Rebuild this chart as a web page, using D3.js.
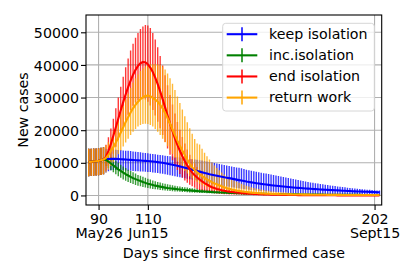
<!DOCTYPE html>
<html><head><meta charset="utf-8">
<script src="https://cdn.jsdelivr.net/npm/d3@7"></script>
<style>body{margin:0;background:#fff}svg{display:block}text{font-family:"DejaVu Sans",sans-serif}</style>
</head><body><svg id="c" width="415" height="277"></svg>
<script>
// ---- data ----
const firstDay = 86, lastDay = 204;
const days = d3.range(firstDay, lastDay + 1);
const seriesNames = ["keep isolation", "inc.isolation", "end isolation", "return work"];
const seriesColors = ["#0000ff", "#008000", "#ff0000", "#ffa500"];
const xTickValues = [90, 110, 202];
const xTickLabels = [["90", "May26"], ["110", "Jun15"], ["202", "Sept15"]];
const yTickValues = [0, 10000, 20000, 30000, 40000, 50000];

const keepMean = [10200,10300,10400,10500,10600,10800,11000,
11100,11150,11200,11200,11200,11150,11100,11050,
11000,10950,10900,10850,10800,10750,10700,10650,10600,10550,
10500,10400,10300,10200,10100,10000,9850,9700,9550,9400,
9250,9100,8900,8700,8500,8300,8100,7900,7700,7500,
7300,7100,6900,6700,6500,6350,6200,6050,5900,5750,
5600,5450,5300,5150,5000,4850,4700,4550,4400,4250,
4120,4000,3880,3760,3650,3540,3430,3330,3230,3140,
3050,2960,2880,2800,2720,2650,2580,2510,2440,2380,
2320,2260,2200,2140,2080,2030,1980,1930,1880,1830,
1780,1740,1700,1660,1620,1580,1540,1500,1460,1420,
1380,1340,1300,1260,1230,1200,1170,1140,1110,1080,
1050,1020,990,960];
const keepLow = [5900,6000,6000,6100,6200,6300,6500,
7000,7400,7700,7800,7800,7800,7750,7700,
7650,7600,7550,7500,7450,7400,7350,7300,7250,7200,
7150,7050,6950,6850,6750,6650,6500,6350,6200,6050,
5900,5750,5600,5450,5300,5150,5000,4850,4700,4550,
4380,4200,4050,3900,3750,3600,3450,3300,3150,3000,
2880,2760,2640,2520,2400,2290,2180,2070,1970,1870,
1770,1680,1590,1500,1420,1340,1270,1200,1140,1080,
1020,970,920,870,830,790,750,710,680,650,
620,590,560,540,510,490,470,450,430,410,
390,375,360,345,330,315,300,290,280,270,
260,250,240,230,220,210,200,195,190,180,
175,170,165,160];
const keepHigh = [14300,14300,14400,14400,14500,14600,14800,
14300,14200,14100,14000,14000,13900,13900,13800,
13700,13700,13600,13500,13400,13300,13200,13100,13000,12900,
12800,12700,12600,12500,12400,12300,12200,12100,12000,11900,
11800,11700,11600,11500,11400,11300,11200,11100,11000,10900,
10800,10700,10550,10400,10250,10100,9950,9800,9650,9500,
9350,9200,9050,8900,8750,8600,8450,8300,8100,7900,
7700,7550,7400,7250,7100,6950,6800,6700,6550,6400,
6250,6100,5950,5800,5650,5500,5350,5200,5050,4900,
4750,4600,4450,4300,4150,4000,3880,3760,3640,3520,
3400,3290,3180,3070,2960,2860,2760,2660,2570,2480,
2390,2300,2220,2140,2060,1990,1920,1850,1780,1720,
1660,1600,1540,1480];

const incMean = [10200,10300,10400,10500,10600,10800,11000,
10900,10400,9800,9200,8600,8000,7500,7000,
6500,6100,5700,5300,5000,4700,4400,4100,3850,3600,
3400,3200,3000,2850,2700,2550,2400,2280,2180,2100,
2000,1910,1830,1750,1680,1610,1540,1470,1410,1350,
1300,1250,1200,1150,1100,1050,1000,960,920,880,
850,820,790,760,740,710,690,660,640,620,
600,580,560,540,520,505,490,475,460,450,
435,420,410,395,385,370,360,350,340,330,
320,310,300,290,285,275,270,260,255,245,
240,230,225,220,215,210,205,200,195,190,
185,180,175,170,165,160,155,150,145,140,
135,130,125,120];
const incLow = [5900,6000,6000,6100,6200,6300,6500,
9000,8400,7700,7100,6500,5900,5400,4900,
4500,4100,3800,3500,3200,3000,2800,2600,2450,2300,
2150,2000,1900,1800,1700,1600,1520,1440,1370,1300,
1240,1180,1120,1070,1020,970,930,890,850,810,
780,750,720,690,660,630,600,580,560,540,
520,500,480,460,445,430,415,400,385,370,
355,340,330,320,310,300,290,280,270,260,
250,240,230,220,210,200,195,190,185,180,
175,170,165,160,155,150,145,140,135,130,
125,120,115,110,105,100,96,92,88,84,
80,77,74,71,68,65,62,59,56,53,
50,48,46,44];
const incHigh = [14300,14300,14400,14400,14500,14600,14800,
12600,12200,11700,11200,10600,10000,9400,8900,
8400,7900,7500,7100,6700,6300,6000,5700,5400,5100,
4850,4600,4350,4150,3950,3750,3550,3400,3250,3100,
2970,2850,2730,2620,2510,2410,2310,2220,2130,2050,
1970,1890,1820,1750,1680,1620,1560,1500,1440,1390,
1340,1290,1240,1200,1160,1120,1080,1040,1000,970,
940,910,880,850,820,795,770,745,720,700,
680,660,640,620,600,585,570,555,540,525,
510,495,480,470,460,450,440,430,420,410,
400,390,380,370,360,350,342,334,326,318,
310,302,294,286,278,270,263,256,249,242,
235,228,221,215];

const endMean = [10200,10300,10400,10500,10600,10800,11000,
11800,13600,15800,18300,20900,23500,26100,28600,
31000,33200,35200,37000,38500,39700,40500,40900,40800,40200,
39200,37800,36100,34100,31900,29500,27000,24500,22000,19700,
17500,15500,13700,12000,10500,9200,8000,7000,6200,5500,
4900,4300,3800,3350,2900,2500,2250,2000,1800,1600,
1450,1300,1180,1070,970,880,800,730,670,610,
560,510,470,430,390,360,330,300,280,260,
240,220,200,185,170,158,146,135,125,116,
108,100,93,86,80,74,69,64,60,56,
52,48,45,42,39,36,34,32,30,28,
26,24,22,21,20,19,18,17,16,15,
14,13,12,11];
const endLow = [5900,6000,6000,6100,6200,6300,6500,
7600,9000,10800,12800,14900,17000,19100,21100,
23000,24700,26200,27500,28500,29200,29600,29700,29400,28700,
27600,26200,24500,22600,20600,18500,16400,14400,12500,10800,
9200,7800,6600,5500,4600,3900,3300,2800,2350,2000,
1700,1450,1250,1070,920,800,700,610,530,460,
400,350,310,270,240,210,185,165,145,130,
115,100,90,80,70,62,55,50,45,40,
36,32,29,26,23,21,19,17,15,14,
13,12,11,10,9,8,7,7,6,6,
5,5,5,4,4,4,3,3,3,3,
2,2,2,2,2,2,1,1,1,1,
1,1,1,1];
const endHigh = [14300,14300,14400,14400,14500,14600,14800,
15500,17800,20500,23500,26700,30000,33300,36400,
39300,42000,44400,46500,48300,49800,51000,51800,52200,52100,
51300,49800,47800,45400,42700,39800,36800,33800,30800,27900,
25100,22500,20100,17900,15900,14100,12500,11100,9800,8700,
7700,6800,6000,5300,4700,4200,3750,3350,3000,2700,
2450,2200,2000,1800,1650,1500,1370,1250,1140,1040,
950,870,800,735,675,620,570,525,485,450,
415,385,355,330,305,285,265,245,230,215,
200,187,175,163,152,142,133,124,116,108,
101,95,89,83,78,73,68,64,60,56,
52,49,46,43,40,38,36,34,32,30,
28,26,24,22];

const retMean = [10200,10300,10400,10500,10600,10800,11000,
11500,12400,13600,14800,16200,17700,19300,20900,
22500,24000,25400,26700,27800,28700,29500,30100,30500,30600,
30400,29900,29400,28700,27800,26700,25300,23700,22000,20200,
18500,16800,15200,13800,12400,11000,9700,8600,7800,7100,
6500,5900,5400,4900,4500,4100,3700,3400,3100,2800,
2500,2250,2050,1850,1680,1520,1380,1250,1130,1030,
940,860,790,730,670,620,580,540,500,470,
440,420,400,380,360,345,330,315,300,290,
280,270,260,250,242,234,226,218,211,204,
198,192,186,180,175,170,165,160,156,152,
148,144,140,137,134,131,128,125,122,120,
118,116,114,112];
const retLow = [5900,6000,6000,6100,6200,6300,6500,
7000,7900,9000,10200,11400,12600,13800,15000,
16200,17400,18500,19500,20400,21100,21600,21900,22000,21900,
21600,21100,20400,19500,18500,17400,16300,15100,13900,12700,
11500,10400,9400,8400,7500,6700,5900,5200,4600,4100,
3600,3200,2800,2500,2200,1950,1700,1500,1330,1180,
1050,930,830,740,660,590,530,470,420,380,
340,310,280,255,232,212,195,180,166,154,
143,133,124,116,109,102,96,90,85,80,
76,72,68,65,62,59,56,54,52,50,
48,46,44,43,42,41,40,39,38,37,
36,35,34,33,32,31,30,29,28,27,
26,25,24,23];
const retHigh = [14300,14300,14400,14400,14500,14600,14800,
15300,16300,17800,19600,21500,23500,25500,27500,
29400,31200,32900,34500,35900,37100,38100,38900,39500,39900,
40100,40200,40200,40100,40000,39500,38600,37400,35900,34200,
32300,30300,28300,26300,24300,22400,20600,18900,17300,15900,
15600,14300,13100,12000,11000,10100,9200,8400,7700,7000,
6400,5900,5400,5000,4600,4200,3900,3600,3300,3000,
2750,2500,2300,2100,1950,1800,1650,1530,1420,1320,
1230,1150,1080,1010,950,900,850,800,760,720,
685,650,620,590,565,540,515,495,475,455,
440,425,410,395,382,370,358,347,336,326,
316,307,298,290,282,275,268,261,255,249,
243,238,233,228];

// ---- chart ----
const series = [
  {name: seriesNames[0], color: seriesColors[0], mean: keepMean, low: keepLow, high: keepHigh},
  {name: seriesNames[1], color: seriesColors[1], mean: incMean, low: incLow, high: incHigh},
  {name: seriesNames[2], color: seriesColors[2], mean: endMean, low: endLow, high: endHigh},
  {name: seriesNames[3], color: seriesColors[3], mean: retMean, low: retLow, high: retHigh}
];

const FS = 14.2;
const L = 86, R = 381.7, T = 15, B = 205;
const svg = d3.select("#c");
const x = d3.scaleLinear().domain([84.9, 204.9]).range([L, R]);
const y = d3.scaleLinear().domain([-2930, 55300]).range([B, T]);

svg.append("clipPath").attr("id", "clip").append("rect")
  .attr("x", L).attr("y", T).attr("width", R - L).attr("height", B - T);

// grid
const grid = svg.append("g");
grid.selectAll("line.gy").data(yTickValues).join("line")
  .attr("x1", L).attr("x2", R).attr("y1", d => y(d)).attr("y2", d => y(d))
  .attr("stroke", "#b0b0b0").attr("stroke-width", 1.1);
grid.selectAll("line.gx").data(xTickValues).join("line")
  .attr("y1", T).attr("y2", B).attr("x1", d => x(d)).attr("x2", d => x(d))
  .attr("stroke", "#b0b0b0").attr("stroke-width", 1.1);

const plot = svg.append("g").attr("clip-path", "url(#clip)");
// error bars (below all lines)
series.forEach(s => {
  plot.append("g").selectAll("line").data(days).join("line")
    .attr("x1", d => x(d)).attr("x2", d => x(d))
    .attr("y1", (d, i) => y(s.low[i])).attr("y2", (d, i) => y(s.high[i]))
    .attr("stroke", s.color).attr("stroke-width", 1.4).attr("stroke-opacity", 0.78);
});
// mean lines
const line = d3.line().x(d => x(d[0])).y(d => y(d[1]));
series.forEach(s => {
  plot.append("path").datum(days.map((d, i) => [d, s.mean[i]]))
    .attr("d", line).attr("fill", "none").attr("stroke", s.color)
    .attr("stroke-width", 2.1).attr("stroke-linejoin", "round").attr("stroke-linecap", "butt");
});

// axes
const yAxis = svg.append("g").attr("transform", `translate(${L},0)`)
  .call(d3.axisLeft(y).tickValues(yTickValues).tickFormat(d3.format("d")).tickSize(5).tickSizeOuter(0).tickPadding(2));
yAxis.select(".domain").remove();
yAxis.selectAll("text").attr("font-size", FS).attr("fill", "#000").attr("font-family", "DejaVu Sans").attr("dy", "0.36em");
yAxis.selectAll("line").attr("stroke", "#000").attr("stroke-width", 1.1);

const xAxis = svg.append("g").attr("transform", `translate(0,${B})`)
  .call(d3.axisBottom(x).tickValues(xTickValues).tickSize(5).tickSizeOuter(0));
xAxis.select(".domain").remove();
xAxis.selectAll("line").attr("stroke", "#000").attr("stroke-width", 1.1);
xAxis.selectAll(".tick text").remove();
xAxis.selectAll(".tick").each(function(d, i) {
  const t = d3.select(this).append("text").attr("text-anchor", "middle")
    .attr("font-size", FS).attr("fill", "#000").attr("font-family", "DejaVu Sans");
  t.append("tspan").attr("x", 0).attr("y", 19).text(xTickLabels[i][0]);
  t.append("tspan").attr("x", 0).attr("y", 32.8).text(xTickLabels[i][1]);
});

// frame
svg.append("rect").attr("x", L).attr("y", T).attr("width", R - L).attr("height", B - T)
  .attr("fill", "none").attr("stroke", "#000").attr("stroke-width", 1.1);

// axis labels
svg.append("text").attr("x", (L + R) / 2).attr("y", 257.5).attr("text-anchor", "middle")
  .attr("font-size", FS).text("Days since first confirmed case");
svg.append("text").attr("transform", `translate(27.5,${(T + B) / 2}) rotate(-90)`)
  .attr("text-anchor", "middle").attr("font-size", FS).text("New cases");

// legend
const lg = svg.append("g");
lg.append("rect").attr("x", 222.7).attr("y", 23.3).attr("width", 151.6).attr("height", 87.7)
  .attr("rx", 3).attr("fill", "#fff").attr("fill-opacity", 0.8)
  .attr("stroke", "#d6d6d6").attr("stroke-width", 1);
const rowY = d3.scalePoint().domain(seriesNames).range([34.2, 97.6]);
series.forEach(s => {
  const cy = rowY(s.name);
  lg.append("line").attr("x1", 226.7).attr("x2", 257.3).attr("y1", cy).attr("y2", cy)
    .attr("stroke", s.color).attr("stroke-width", 2.1);
  lg.append("line").attr("x1", 242).attr("x2", 242).attr("y1", cy - 7).attr("y2", cy + 7)
    .attr("stroke", s.color).attr("stroke-width", 1.5);
  lg.append("text").attr("x", 269).attr("y", cy + 4.6).attr("font-size", FS).text(s.name);
});
</script></body></html>
